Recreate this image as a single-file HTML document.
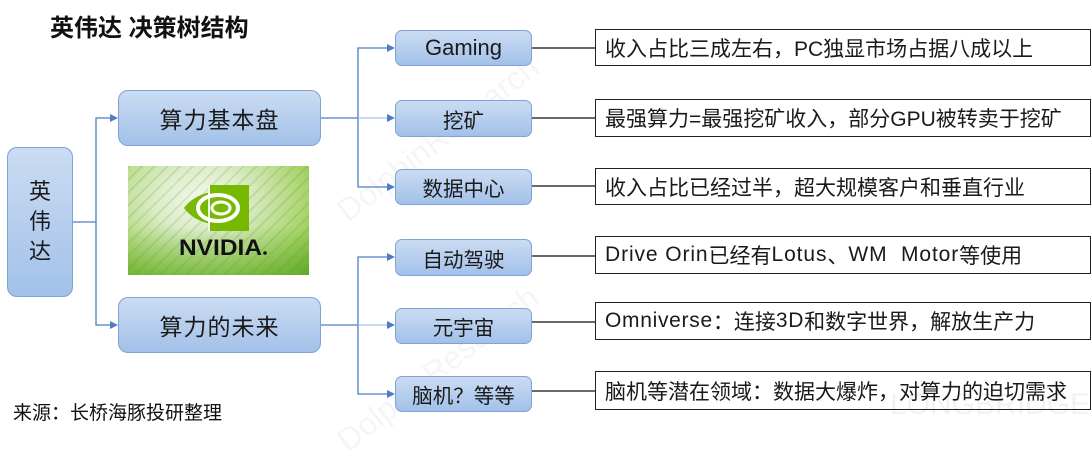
<!DOCTYPE html>
<html><head><meta charset="utf-8">
<style>
html,body{margin:0;padding:0;background:#fff;}
body{width:1092px;height:435px;position:relative;overflow:hidden;font-family:"Liberation Sans","Noto Sans CJK SC",sans-serif;color:#1a1a1a;}
.abs{position:absolute;}
.bx{position:absolute;box-sizing:border-box;background:linear-gradient(#cbdcf2,#a2c1e9);border:1px solid #7fa3d6;display:flex;align-items:center;justify-content:center;}
.main{border-radius:10px;font-size:23px;letter-spacing:1px;}
.br{border-radius:7px;font-size:20.5px;left:395px;width:137px;}
.tx{position:absolute;box-sizing:border-box;left:595px;width:496px;border:1px solid #222;background:#fff;font-size:21px;display:flex;align-items:center;padding-left:9px;white-space:nowrap;}
.ls{letter-spacing:0.9px;}
.wm{position:absolute;color:rgba(0,0,0,0.04);font-size:32px;white-space:nowrap;transform-origin:0 0;}
</style></head><body>

<div class="wm" style="left:330px;top:200px;transform:rotate(-38deg);">DolphinResearch</div>
<div class="wm" style="left:330px;top:430px;transform:rotate(-38deg);">DolphinResearch</div>
<div class="wm" style="left:890px;top:388px;font-size:30px;color:rgba(0,0,0,0.05);">LONGBRIDGE</div>

<div class="abs" style="left:50px;top:8px;font-size:24px;font-weight:bold;color:#111;">英伟达 决策树结构</div>

<svg class="abs" style="left:0;top:0" width="1092" height="435">
  <g stroke="#4f7cc4" stroke-width="1.3" fill="none">
    <polyline points="72,222 96,222"/>
    <polyline points="112,118 96,118 96,325 112,325"/>
    <polyline points="320,118 358,118"/>
    <polyline points="389,48 358,48 358,187 389,187"/>
    <line x1="358" y1="118" x2="389" y2="118" stroke="#a9c3e6"/>
    <polyline points="320,325 358,325"/>
    <polyline points="389,257 358,257 358,394 389,394"/>
    <line x1="358" y1="325" x2="389" y2="325" stroke="#a9c3e6"/>
  </g>
  <g fill="#4f7cc4">
    <polygon points="118,118 110,114 110,122"/>
    <polygon points="118,325 110,321 110,329"/>
    <polygon points="395,48 387,44 387,52"/>
    <polygon points="395,118 387,114 387,122"/>
    <polygon points="395,187 387,183 387,191"/>
    <polygon points="395,257 387,253 387,261"/>
    <polygon points="395,325 387,321 387,329"/>
    <polygon points="395,394 387,390 387,398"/>
  </g>
  <g stroke="#111" stroke-width="1.3">
    <line x1="532" y1="48" x2="595" y2="48"/>
    <line x1="532" y1="118" x2="595" y2="118"/>
    <line x1="532" y1="186" x2="595" y2="186"/>
    <line x1="532" y1="256" x2="595" y2="256"/>
    <line x1="532" y1="322" x2="595" y2="322"/>
    <line x1="532" y1="391" x2="595" y2="391"/>
  </g>
</svg>

<div class="bx" style="left:7px;top:147px;width:66px;height:150px;border-radius:10px;font-size:22px;line-height:30px;text-align:center;">英<br>伟<br>达</div>

<div class="bx main" style="left:118px;top:90px;width:203px;height:56px;">算力基本盘</div>
<div class="bx main" style="left:118px;top:297px;width:203px;height:56px;">算力的未来</div>

<div class="bx br" style="top:30px;height:36px;font-size:22px;">Gaming</div>
<div class="bx br" style="top:100px;height:37px;">挖矿</div>
<div class="bx br" style="top:169px;height:36px;">数据中心</div>
<div class="bx br" style="top:239px;height:37px;">自动驾驶</div>
<div class="bx br" style="top:308px;height:36px;">元宇宙</div>
<div class="bx br" style="top:376px;height:36px;">脑机？等等</div>

<div class="tx" style="top:29px;height:37px;">收入占比三成左右，PC独显市场占据八成以上</div>
<div class="tx" style="top:99px;height:38px;">最强算力=最强挖矿收入，部分GPU被转卖于挖矿</div>
<div class="tx" style="top:168px;height:37px;">收入占比已经过半，超大规模客户和垂直行业</div>
<div class="tx" style="top:236px;height:38px;"><span class="ls">Drive Orin</span>已经有<span class="ls">Lotus</span>、<span class="ls">WM&nbsp; Motor</span>等使用</div>
<div class="tx" style="top:302px;height:38px;"><span style="letter-spacing:0.7px">Omniverse</span>：连接<span style="letter-spacing:0.7px">3D</span>和数字世界，解放生产力</div>
<div class="tx" style="top:371px;height:39px;background:transparent;">脑机等潜在领域：数据大爆炸，对算力的迫切需求</div>

<div class="abs" style="left:128px;top:166px;width:181px;height:109px;overflow:hidden;background:radial-gradient(ellipse at 40% 30%, #f3f8ec 0%, #dcecc8 30%, #a9d46c 70%, #72b52c 100%);">
  <div class="abs" style="left:0;top:0;width:181px;height:109px;background:repeating-linear-gradient(135deg, rgba(90,150,40,0.18) 0 2px, transparent 2px 9px);"></div>
  <div class="abs" style="left:0;top:60px;width:181px;height:49px;background:linear-gradient(rgba(80,160,30,0) ,rgba(80,160,30,0.45));"></div>
  <svg class="abs" style="left:0;top:0" width="181" height="109">
    <rect x="80" y="19" width="41" height="46" fill="#76b900"/>
    <path d="M56,42 C66,28 88,21 112,27 L112,57 C88,63 66,56 56,42 Z" fill="#76b900"/>
    <ellipse cx="90" cy="42" rx="20" ry="13" fill="none" stroke="#fff" stroke-width="4"/>
    <ellipse cx="93" cy="42" rx="9" ry="6" fill="#76b900" stroke="#fff" stroke-width="3"/>
    <rect x="80" y="19" width="2" height="46" fill="#fff" opacity="0.9"/>
    <text x="51" y="89" font-family="Liberation Sans, sans-serif" font-weight="bold" font-size="22" fill="#111" textLength="83" lengthAdjust="spacingAndGlyphs">NVIDIA</text>
    <circle cx="137" cy="87" r="1.8" fill="#111"/>
  </svg>
</div>

<div class="abs" style="left:13px;top:398px;font-size:19px;color:#111;">来源：长桥海豚投研整理</div>

</body></html>
